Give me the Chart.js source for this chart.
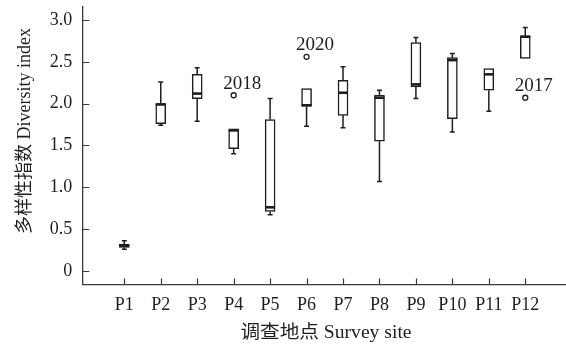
<!DOCTYPE html>
<html>
<head>
<meta charset="utf-8">
<script src="https://cdn.jsdelivr.net/npm/chart.js@4"></script>
<style>
  html, body { margin: 0; padding: 0; background: #fff; }
  canvas { display: block; }
</style>
</head>
<body>
<canvas id="boxChart" width="566" height="344"></canvas>
<script>
// survey sites
const sites = ['P1', 'P2', 'P3', 'P4', 'P5', 'P6', 'P7', 'P8', 'P9', 'P10', 'P11', 'P12'];
// box plot summary per site
const whiskerLow = [0.26, 1.74, 1.79, 1.40, 0.67, 1.73, 1.71, 1.07, 2.06, 1.66, 1.91, 2.54];
const q1 = [0.28, 1.76, 2.06, 1.46, 0.71, 1.97, 1.86, 1.55, 2.20, 1.82, 2.16, 2.54];
const median = [0.30, 1.99, 2.12, 1.68, 0.76, 1.98, 2.13, 2.07, 2.23, 2.52, 2.35, 2.80];
const q3 = [0.32, 2.00, 2.35, 1.70, 1.81, 2.18, 2.28, 2.10, 2.73, 2.55, 2.42, 2.81];
const whiskerHigh = [0.36, 2.26, 2.43, 1.70, 2.06, 2.18, 2.44, 2.16, 2.79, 2.60, 2.42, 2.91];
// outliers
const outlierSite = ['P4', 'P6', 'P12'];
const outlierValue = [2.10, 2.56, 2.07];
const outlierYear = ['2018', '2020', '2017'];
// y axis ticks
const yTicks = [0, 0.5, 1.0, 1.5, 2.0, 2.5, 3.0];
const yTickLabels = ['0', '0.5', '1.0', '1.5', '2.0', '2.5', '3.0'];

const serif = "'Liberation Serif', 'Noto Sans CJK SC', serif";
const ink = '#1e1e1e';
const siteX = sites.map((s, i) => i + 1);

// whiskers, caps, medians, outlier labels, inward ticks and axis titles
const boxParts = {
    id: 'boxParts',
    afterDatasetsDraw(chart) {
        const ctx = chart.ctx;
        const xs = chart.scales.x, ys = chart.scales.y;
        ctx.save();
        ctx.strokeStyle = ink;
        sites.forEach((s, i) => {
            const px = xs.getPixelForValue(siteX[i]);
            ctx.lineWidth = 1.5;
            ctx.beginPath();
            if (whiskerHigh[i] > q3[i]) {
                ctx.moveTo(px, ys.getPixelForValue(q3[i]));
                ctx.lineTo(px, ys.getPixelForValue(whiskerHigh[i]));
                ctx.moveTo(px - 2.5, ys.getPixelForValue(whiskerHigh[i]));
                ctx.lineTo(px + 2.5, ys.getPixelForValue(whiskerHigh[i]));
            }
            if (whiskerLow[i] < q1[i]) {
                ctx.moveTo(px, ys.getPixelForValue(q1[i]));
                ctx.lineTo(px, ys.getPixelForValue(whiskerLow[i]));
                ctx.moveTo(px - 2.5, ys.getPixelForValue(whiskerLow[i]));
                ctx.lineTo(px + 2.5, ys.getPixelForValue(whiskerLow[i]));
            }
            ctx.stroke();
            // median
            ctx.lineWidth = 2.6;
            ctx.beginPath();
            ctx.moveTo(px - 5, ys.getPixelForValue(median[i]));
            ctx.lineTo(px + 5, ys.getPixelForValue(median[i]));
            ctx.stroke();
        });
        // year labels next to the outliers
        ctx.fillStyle = ink;
        ctx.font = '19px ' + serif;
        ctx.textAlign = 'center';
        ctx.textBaseline = 'middle';
        outlierYear.forEach((t, i) => {
            const px = xs.getPixelForValue(sites.indexOf(outlierSite[i]) + 1);
            const py = ys.getPixelForValue(outlierValue[i]);
            ctx.fillText(t, px + 8.5, py - 11.5);
        });
        ctx.restore();
    },
    afterDraw(chart) {
        const ctx = chart.ctx;
        const xs = chart.scales.x, ys = chart.scales.y;
        const area = chart.chartArea;
        ctx.save();
        ctx.strokeStyle = '#3a3a3a';
        ctx.lineWidth = 1.2;
        ctx.beginPath();
        yTicks.forEach(v => {
            const py = Math.round(ys.getPixelForValue(v)) + 0.5;
            ctx.moveTo(area.left, py);
            ctx.lineTo(area.left + 7, py);
        });
        siteX.forEach(v => {
            const px = Math.round(xs.getPixelForValue(v)) + 0.5;
            ctx.moveTo(px, area.bottom);
            ctx.lineTo(px, area.bottom - 6);
        });
        ctx.stroke();
        // axis titles
        ctx.fillStyle = ink;
        ctx.font = '18px ' + serif;
        ctx.textAlign = 'center';
        ctx.textBaseline = 'middle';
        ctx.save();
        ctx.translate(326, 333);
        ctx.scale(1.09, 1);
        ctx.fillText('调查地点 Survey site', 0, 0);
        ctx.restore();
        ctx.translate(25, 131);
        ctx.rotate(-Math.PI / 2);
        ctx.fillText('多样性指数 Diversity index', 0, 0);
        ctx.restore();
    }
};

new Chart(document.getElementById('boxChart'), {
    type: 'bar',
    data: {
        datasets: [{
            data: siteX.map((x, i) => ({ x: x, y: [q1[i], q3[i]] })),
            backgroundColor: '#ffffff',
            borderColor: ink,
            borderWidth: 1.5,
            borderSkipped: false,
            barThickness: 10
        }, {
            type: 'scatter',
            data: outlierSite.map((s, i) => ({ x: sites.indexOf(s) + 1, y: outlierValue[i] })),
            pointStyle: 'circle',
            pointRadius: 2.5,
            pointBackgroundColor: '#ffffff',
            pointBorderColor: ink,
            pointBorderWidth: 1.3
        }]
    },
    options: {
        responsive: false,
        animation: false,
        events: [],
        layout: { autoPadding: false, padding: { top: 6.7, right: 0, left: 0, bottom: 0 } },
        plugins: {
            legend: { display: false },
            title: { display: false },
            tooltip: { enabled: false }
        },
        scales: {
            x: {
                type: 'linear',
                offset: false,
                min: -0.152,
                max: 13.117,
                afterBuildTicks: s => { s.ticks = siteX.map(v => ({ value: v })); },
                afterFit: s => {
                    s.height = 59.5;
                    s.paddingLeft = 0;
                    s.paddingRight = 0;
                },
                grid: { display: true, drawOnChartArea: false, drawTicks: false },
                border: { display: true, color: '#3a3a3a', width: 1.3 },
                ticks: {
                    padding: 10,
                    color: ink,
                    maxRotation: 0,
                    autoSkip: false,
                    font: { family: serif, size: 18 },
                    callback: (v, i) => sites[i]
                }
            },
            y: {
                type: 'linear',
                min: -0.163,
                max: 3.159,
                afterBuildTicks: s => { s.ticks = yTicks.map(v => ({ value: v })); },
                afterFit: s => {
                    s.width = 82.3;
                    s.paddingTop = 0;
                    s.paddingBottom = 0;
                },
                grid: { display: true, drawOnChartArea: false, drawTicks: false },
                border: { display: true, color: '#3a3a3a', width: 1.3 },
                ticks: {
                    padding: 10,
                    color: ink,
                    font: { family: serif, size: 18 },
                    callback: (v, i) => yTickLabels[i]
                }
            }
        }
    },
    plugins: [boxParts]
});
</script>
</body>
</html>
